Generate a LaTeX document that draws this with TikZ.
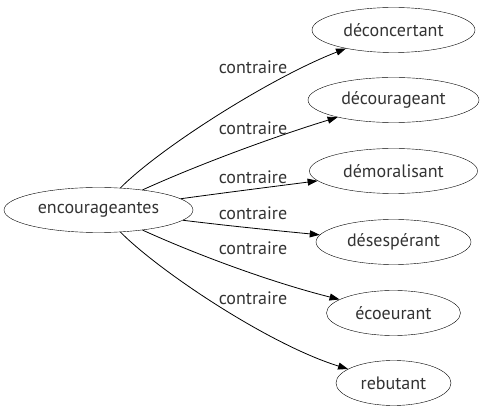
\documentclass[tikz,border=0pt]{standalone}
\usepackage{fontspec}
\setmainfont{PT Sans}
\usepackage{tikz}
\usetikzlibrary{shapes.geometric, arrows.meta}
\tikzset{every node/.append style={font=\fontsize{18}{20}\selectfont, text=black!80}}
\tikzset{
  word/.style={draw, ellipse, inner sep=0pt, minimum height=45pt},
  rel/.style={-{Triangle[length=10pt, width=7pt]}, line width=0.8pt},
}

\begin{document}
\begin{tikzpicture}[x=1pt, y=-1pt]
    \useasboundingbox (0,0) rectangle (482,419);
    \node[word, minimum width=189pt] (enc) at (98.5,210) {encourageantes};
    \node[word, minimum width=163pt] (dec) at (393.5,30) {déconcertant};
    \node[word, minimum width=171pt] (dcg) at (393.5,100) {décourageant};
    \node[word, minimum width=168pt] (dem) at (393.5,171) {démoralisant};
    \node[word, minimum width=155pt] (des) at (393.5,242) {désespérant};
    \node[word, minimum width=134pt] (eco) at (393.5,313) {écoeurant};
    \node[word, minimum width=115pt] (reb) at (393.5,383) {rebutant};
    \draw[rel] (enc) .. controls (160,148) and (270,78) .. (dec);
    \draw[rel] (enc) .. controls (195,166) and (270,138) .. (dcg);
    \draw[rel] (enc) .. controls (230,192) and (270,187) .. (dem);
    \draw[rel] (enc) .. controls (230,226) and (270,230) .. (des);
    \draw[rel] (enc) .. controls (195,254) and (270,282) .. (eco);
    \draw[rel] (enc) .. controls (160,272) and (270,345) .. (reb);
    \node (l1) at (253,67) {contraire};
    \node (l2) at (253,128) {contraire};
    \node (l3) at (253,177) {contraire};
    \node (l4) at (253,213) {contraire};
    \node (l5) at (253,248) {contraire};
    \node (l6) at (253,298) {contraire};
\end{tikzpicture}
\end{document}
